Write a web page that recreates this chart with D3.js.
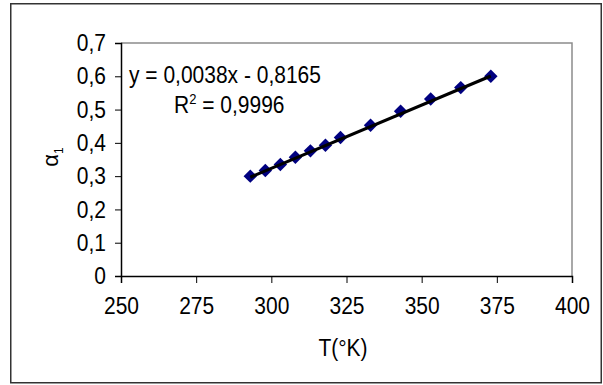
<!DOCTYPE html>
<html>
<head>
<meta charset="utf-8">
<script src="https://cdn.jsdelivr.net/npm/d3@7"></script>
<style>
  html, body { margin: 0; padding: 0; background: #fff; }
  svg { display: block; font-family: Arial, "Liberation Sans", sans-serif; }
  svg text.tall { transform-box: fill-box; transform-origin: center; transform: scaleY(1.12); }
</style>
</head>
<body>
<svg id="chart" width="603" height="385"></svg>
<script>
// Temperature (K) and measured alpha_1
const temperatures = [293, 298, 303, 308, 313, 318, 323, 333, 343, 353, 363, 373];
const alphaValues  = [0.300, 0.317, 0.335, 0.357, 0.376, 0.393, 0.416, 0.453, 0.495, 0.532, 0.566, 0.600];

// Linear trend shown in the equation label
const trendSlope = 0.0038;
const trendIntercept = -0.8165;
const trendR2Text = "0,9996";
const trendEqText = "y = 0,0038x - 0,8165";

const xTickValues = [250, 275, 300, 325, 350, 375, 400];
const xTickLabels = ["250", "275", "300", "325", "350", "375", "400"];
const yTickValues = [0, 0.1, 0.2, 0.3, 0.4, 0.5, 0.6, 0.7];
const yTickLabels = ["0", "0,1", "0,2", "0,3", "0,4", "0,5", "0,6", "0,7"];

const svg = d3.select("#chart");
const plot = { left: 121, right: 572, top: 43, bottom: 276 };

const x = d3.scaleLinear().domain([250, 400]).range([plot.left, plot.right]);
const y = d3.scaleLinear().domain([0, 0.7]).range([plot.bottom, plot.top]);

// Outer chart frame
svg.append("rect")
  .attr("x", 10.75).attr("y", 3.75)
  .attr("width", 590.5).attr("height", 379)
  .attr("fill", "#fff").attr("stroke", "#333").attr("stroke-width", 1.5);

// Plot area border (top and right in gray)
svg.append("path")
  .attr("d", `M${plot.left},${plot.top}H${plot.right}V${plot.bottom}`)
  .attr("fill", "none").attr("stroke", "#8c8c8c").attr("stroke-width", 1.5);

const fontSize = 21;

// Y axis
const yAxis = d3.axisLeft(y)
  .tickValues(yTickValues)
  .tickFormat((d, i) => yTickLabels[i])
  .tickSize(6).tickPadding(9);
const gy = svg.append("g").attr("transform", `translate(${plot.left},0)`).call(yAxis);
gy.select(".domain").attr("stroke", "#000").attr("stroke-width", 1.5);
gy.selectAll(".tick line").attr("stroke", "#000").attr("stroke-width", 1);
gy.selectAll(".tick text")
  .attr("class", "tall")
  .attr("font-size", fontSize).attr("fill", "#000")
  .attr("font-family", "Arial, 'Liberation Sans', sans-serif");

// X axis
const xAxis = d3.axisBottom(x)
  .tickValues(xTickValues)
  .tickFormat((d, i) => xTickLabels[i])
  .tickSize(7).tickPadding(15);
const gx = svg.append("g").attr("transform", `translate(0,${plot.bottom})`).call(xAxis);
gx.select(".domain").attr("stroke", "#000").attr("stroke-width", 1.5);
gx.selectAll(".tick line").attr("stroke", "#000").attr("stroke-width", 1);
gx.selectAll(".tick text")
  .attr("class", "tall")
  .attr("font-size", fontSize).attr("fill", "#000")
  .attr("font-family", "Arial, 'Liberation Sans', sans-serif");

// Trend line endpoints over the measured range
const tMin = d3.min(temperatures), tMax = d3.max(temperatures);

// Diamond markers
const diamond = d3.symbol().type(d3.symbolDiamond2).size(115);
svg.append("g").selectAll("path")
  .data(temperatures.map((t, i) => [t, alphaValues[i]]))
  .join("path")
  .attr("d", diamond)
  .attr("transform", d => `translate(${x(d[0])},${y(d[1])})`)
  .attr("fill", "#000080");

// Trend line drawn above the markers
svg.append("line")
  .attr("x1", x(tMin)).attr("y1", y(trendSlope * tMin + trendIntercept))
  .attr("x2", x(tMax)).attr("y2", y(trendSlope * tMax + trendIntercept))
  .attr("stroke", "#000").attr("stroke-width", 3.2);

// Regression equation and R²
svg.append("text")
  .attr("class", "tall")
  .attr("x", 129).attr("y", 82)
  .attr("font-size", fontSize).attr("fill", "#000")
  .text(trendEqText);

const r2 = svg.append("text")
  .attr("class", "tall")
  .attr("x", 174).attr("y", 112)
  .attr("font-size", fontSize).attr("fill", "#000");
r2.append("tspan").text("R");
r2.append("tspan").attr("font-size", 13).attr("dy", -8).text("2");
r2.append("tspan").attr("dy", 8).text(" = " + trendR2Text);

// Axis titles
svg.append("text")
  .attr("class", "tall")
  .attr("x", 343).attr("y", 355)
  .attr("text-anchor", "middle")
  .attr("font-size", fontSize).attr("fill", "#000")
  .text("T(°K)");

const yTitle = svg.append("text")
  .attr("transform", "translate(58,157) rotate(-90)")
  .attr("text-anchor", "middle")
  .attr("font-size", 22).attr("fill", "#000");
yTitle.append("tspan").text("α");
yTitle.append("tspan").attr("font-size", 12).attr("dy", 5).text("1");
</script>
</body>
</html>
